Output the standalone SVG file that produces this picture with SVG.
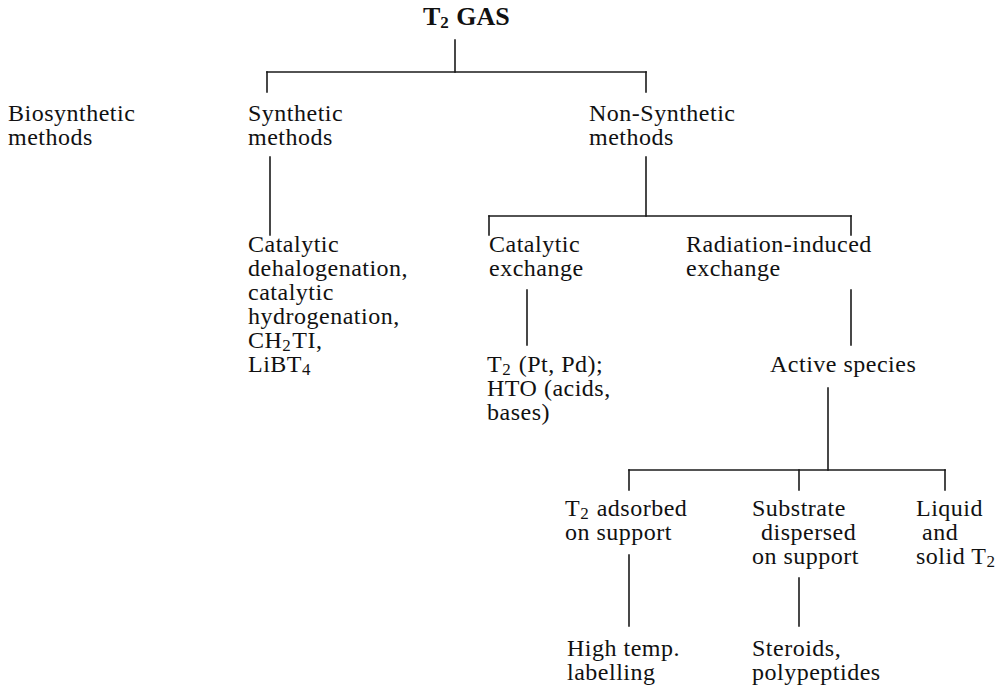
<svg xmlns="http://www.w3.org/2000/svg" width="1000" height="689" viewBox="0 0 1000 689">
<style>
.t{font-family:"Liberation Serif","Times New Roman",serif;font-size:24px;letter-spacing:0.5px;fill:#111}
.title{font-family:"Liberation Serif","Times New Roman",serif;font-size:26px;font-weight:bold;fill:#111}
.sub{font-size:17px}
.c line{stroke:#1a1a1a;stroke-width:1.6;stroke-linecap:square}
</style>
<rect width="1000" height="689" fill="#fff"/>
<g class="c" id="connectors">
<line x1="455" y1="40" x2="455" y2="72"/>
<line x1="267" y1="72" x2="646" y2="72"/>
<line x1="267" y1="72" x2="267" y2="92"/>
<line x1="646" y1="72" x2="646" y2="92"/>
<line x1="270" y1="157" x2="270" y2="235"/>
<line x1="646" y1="157" x2="646" y2="216"/>
<line x1="489" y1="216" x2="851" y2="216"/>
<line x1="489" y1="216" x2="489" y2="235"/>
<line x1="851" y1="216" x2="851" y2="235"/>
<line x1="527" y1="290" x2="527" y2="345"/>
<line x1="851" y1="290" x2="851" y2="345"/>
<line x1="828" y1="388" x2="828" y2="470"/>
<line x1="629" y1="470" x2="945" y2="470"/>
<line x1="629" y1="470" x2="629" y2="490"/>
<line x1="799" y1="470" x2="799" y2="490"/>
<line x1="945" y1="470" x2="945" y2="490"/>
<line x1="629" y1="555" x2="629" y2="626"/>
<line x1="799" y1="578" x2="799" y2="626"/>
</g>
<g id="t2gas"><text class="title" x="423" y="25">T<tspan class="sub" dy="3">2</tspan><tspan dx="1" dy="-3"> GAS</tspan></text></g>
<g id="biosynthetic"><text class="t" x="8" y="121">Biosynthetic</text><text class="t" x="8" y="145">methods</text></g>
<g id="synthetic"><text class="t" x="248" y="121">Synthetic</text><text class="t" x="248" y="145">methods</text></g>
<g id="nonsynthetic"><text class="t" x="589" y="121">Non-Synthetic</text><text class="t" x="589" y="145">methods</text></g>
<g id="synthetic-list">
<text class="t" x="248" y="252">Catalytic</text>
<text class="t" x="248" y="276">dehalogenation,</text>
<text class="t" x="248" y="300">catalytic</text>
<text class="t" x="248" y="324">hydrogenation,</text>
<text class="t" x="248" y="348">CH<tspan class="sub" dy="3">2</tspan><tspan dx="1" dy="-3">TI,</tspan></text>
<text class="t" x="248" y="372">LiBT<tspan class="sub" dy="3">4</tspan></text>
</g>
<g id="catalytic-exchange"><text class="t" x="489" y="252">Catalytic</text><text class="t" x="489" y="276">exchange</text></g>
<g id="radiation-exchange"><text class="t" x="686" y="252">Radiation-induced</text><text class="t" x="686" y="276">exchange</text></g>
<g id="catalytic-list">
<text class="t" x="487" y="372">T<tspan class="sub" dy="3">2</tspan><tspan dx="1" dy="-3"> (Pt, Pd);</tspan></text>
<text class="t" x="487" y="396">HTO (acids,</text>
<text class="t" x="487" y="420">bases)</text>
</g>
<g id="active-species"><text class="t" x="770" y="372">Active species</text></g>
<g id="t2-adsorbed"><text class="t" x="565" y="516">T<tspan class="sub" dy="3">2</tspan><tspan dx="1" dy="-3"> adsorbed</tspan></text><text class="t" x="565" y="540">on support</text></g>
<g id="substrate-dispersed"><text class="t" x="752" y="516">Substrate</text><text class="t" x="761" y="540">dispersed</text><text class="t" x="752" y="564">on support</text></g>
<g id="liquid-solid"><text class="t" x="916" y="516">Liquid</text><text class="t" x="922" y="540">and</text><text class="t" x="916" y="564">solid T<tspan class="sub" dy="3">2</tspan></text></g>
<g id="high-temp"><text class="t" x="567" y="656">High temp.</text><text class="t" x="567" y="680">labelling</text></g>
<g id="steroids"><text class="t" x="752" y="656">Steroids,</text><text class="t" x="752" y="680">polypeptides</text></g>
</svg>
